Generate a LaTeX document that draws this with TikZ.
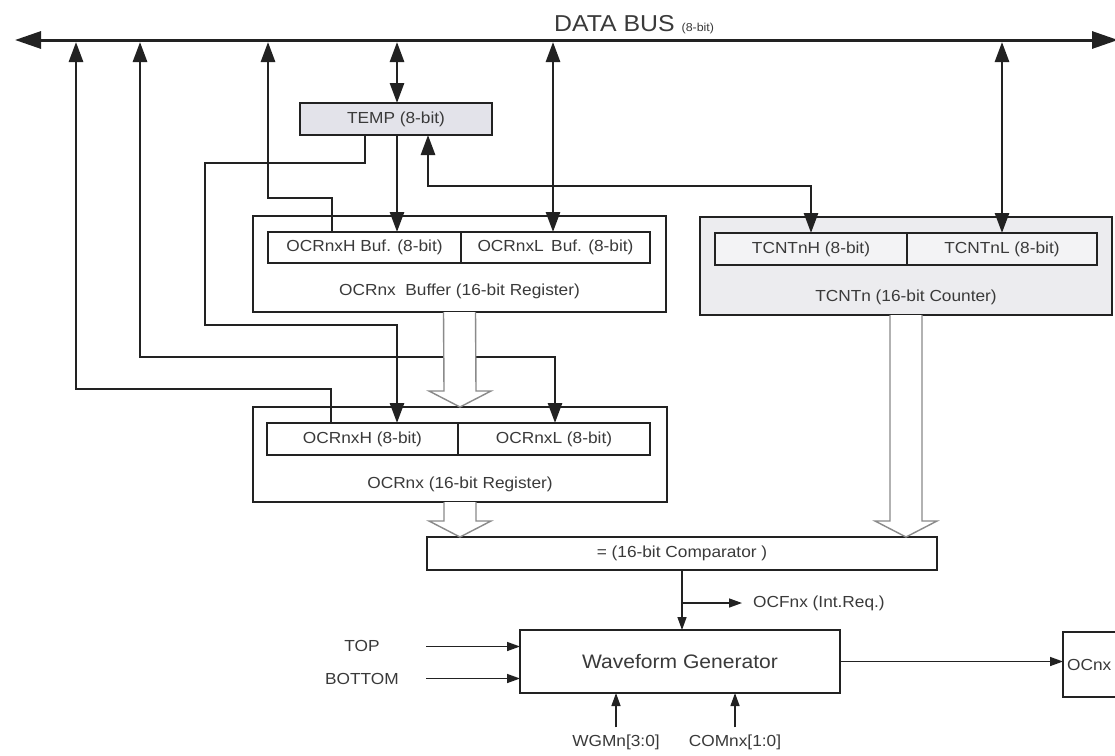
\documentclass[tikz,border=0pt]{standalone}
\usepackage{fontspec}
\setmainfont{Liberation Sans}[FakeStretch=1.08]
\usetikzlibrary{arrows.meta,calc}
\definecolor{ln}{HTML}{222222}
\definecolor{txtc}{HTML}{3A3A3A}
\definecolor{tempc}{HTML}{E3E3EA}
\definecolor{tcc}{HTML}{ECECEF}
\definecolor{tcic}{HTML}{F3F3F5}
\definecolor{holc}{HTML}{8A8A8A}
\tikzset{
  Big/.tip={Triangle[length=20pt,width=14pt]},
  Sm/.tip={Triangle[length=13pt,width=9pt]},
  box/.style={draw=ln, line width=1.8pt, fill=white, inner sep=0pt, outer sep=0pt, text=txtc},
  lbl/.style={text=txtc, inner sep=1pt},
  conn/.style={draw=ln, line width=2.8pt},
  thinc/.style={draw=ln, line width=1.4pt},
  hollowst/.style={draw=holc, line width=1.4pt, fill=white, line join=miter},
  every node/.style={font=\fontsize{16}{18}\selectfont}
}
\newcommand\hollowarrow[2]{%
  \draw[hollowst] ($(#1)+(-16,0)$) -- ($(#2)+(-16,-16)$) -- ($(#2)+(-31,-16)$) -- (#2)
    -- ($(#2)+(31,-16)$) -- ($(#2)+(16,-16)$) -- ($(#1)+(16,0)$);}
\begin{document}
\begin{tikzpicture}[x=1pt,y=-1pt]
\fill[white] (0,0) rectangle (1115,755);
\useasboundingbox (0,0) rectangle (1115,755);

% data bus
\coordinate (busL) at (15,40);
\coordinate (busR) at (1118,40);
\draw[conn, line width=3pt, {Triangle[length=26pt,width=17pt]}-{Triangle[length=26pt,width=17pt]}] (busL) -- (busR);
\node[anchor=base west, lbl, font=\fontsize{23}{26}\selectfont] (buslabel) at (553,31) {DATA BUS {\fontsize{11.5}{12}\selectfont(8-bit)}};
\coordinate (b76) at (76,42);
\coordinate (b140) at (140,42);
\coordinate (b268) at (268,42);
\coordinate (b397) at (397,42);
\coordinate (b553) at (553,42);
\coordinate (b1002) at (1002,42);

% TEMP
\node[box, fill=tempc, minimum width=192pt, minimum height=32pt] (temp) at (396,119) {TEMP (8-bit)};

% OCRnx buffer
\node[box, minimum width=413pt, minimum height=96pt] (buf) at (459.5,264) {};
\node[box, minimum width=193pt, minimum height=31pt] (bufH) at (364.5,247.5) {OCRnxH Buf. (8-bit)};
\node[box, minimum width=189pt, minimum height=31pt] (bufL) at (555.5,247.5) {OCRnxL\, Buf. (8-bit)};
\node[lbl] (buflbl) at (459.5,291) {OCRnx\ \ Buffer (16-bit Register)};

% TCNTn
\node[box, fill=tcc, minimum width=412pt, minimum height=98pt] (tcnt) at (906,266) {};
\node[box, fill=tcic, minimum width=192pt, minimum height=32pt] (tcntH) at (811,249) {TCNTnH (8-bit)};
\node[box, fill=tcic, minimum width=190pt, minimum height=32pt] (tcntL) at (1002,249) {TCNTnL (8-bit)};
\node[lbl] (tcntlbl) at (906,297) {TCNTn (16-bit Counter)};

% OCRnx
\node[box, minimum width=414pt, minimum height=95pt] (ocr) at (460,454.5) {};
\node[box, minimum width=191pt, minimum height=32pt] (ocrH) at (362.5,439) {OCRnxH (8-bit)};
\node[box, minimum width=192pt, minimum height=32pt] (ocrL) at (554,439) {OCRnxL (8-bit)};
\node[lbl] (ocrlbl) at (460,484) {OCRnx (16-bit Register)};

% comparator
\node[box, minimum width=510pt, minimum height=33pt] (comp) at (682,553.5) {= (16-bit Comparator )};

% waveform generator
\node[box, minimum width=320pt, minimum height=63pt, font=\fontsize{19.5}{22}\selectfont] (wf) at (680,661.5) {Waveform Generator};
\node[box, anchor=north west, minimum width=90pt, minimum height=65pt] (ocnx) at (1063,632) {};
\node[lbl, anchor=west] (ocnxlbl) at (1066,664.5) {OCnx};

% thick connectors
\draw[conn, -Big] ([xshift=64pt]ocrH.north west) |- (76,389) -- (b76);
\draw[conn, Big-Big] (b140) |- (555,357) -- ([xshift=97pt]ocrL.north west);
\draw[conn, -Big] ([xshift=65pt]temp.south west) |- (205,163) |- ([xshift=130pt,yshift=98pt]ocrH.north west) -- ([xshift=130pt]ocrH.north west);
\draw[conn, -Big] ([xshift=64pt]bufH.north west) |- (268,198) -- (b268);
\draw[conn, Big-Big] (b397) -- (b397 |- temp.north);
\draw[conn, -Big] ([xshift=97pt]temp.south west) -- ([xshift=97pt]temp.south west |- bufH.north);
\draw[conn, Big-Big] (b553) -- (b553 |- bufL.north);
\draw[conn, Big-Big] ([xshift=128pt]temp.south west) |- (811,186) -- (tcntH.north);
\draw[conn, Big-Big] (b1002) -- (b1002 |- tcntL.north);

% hollow (16-bit) arrows
\hollowarrow{buf.south}{ocr.north}
\hollowarrow{ocr.south}{ocr.south |- comp.north}
\hollowarrow{tcnt.south}{tcnt.south |- comp.north}

% comparator output and interrupt
\coordinate (jn) at (682,603);
\draw[thinc, -Sm] (comp.south) -- (comp.south |- wf.north);
\node[lbl, anchor=west] (ocf) at (752,603) {OCFnx (Int.Req.)};
\draw[thinc, -Sm] (jn) -- ([xshift=-10pt]ocf.west);

% waveform inputs
\node[lbl] (top) at (362,646) {TOP};
\node[lbl] (bot) at (362,679) {BOTTOM};
\draw[thinc, -Sm] ([xshift=-94pt,yshift=15pt]wf.west) -- ([yshift=15pt]wf.west);
\draw[thinc, -Sm] ([xshift=-94pt,yshift=-17pt]wf.west) -- ([yshift=-17pt]wf.west);
\node[lbl] (wgm) at (616,742) {WGMn[3:0]};
\node[lbl] (com) at (735,742) {COMnx[1:0]};
\draw[thinc, -Sm] ([yshift=6pt]wgm.north) -- (wgm.north |- wf.south);
\draw[thinc, -Sm] ([yshift=6pt]com.north) -- (com.north |- wf.south);
\draw[thinc, -Sm] (wf.east) -- (ocnx.west |- wf.east);
\end{tikzpicture}
\end{document}
